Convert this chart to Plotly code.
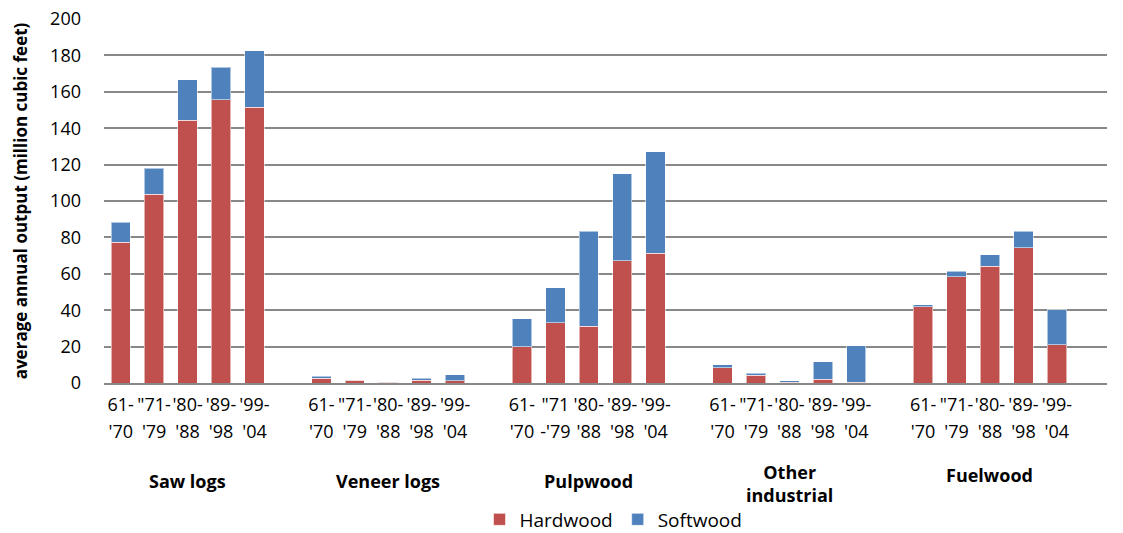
import plotly.graph_objects as go

# Product groups and the survey periods within each group
groups = ["Saw logs", "Veneer logs", "Pulpwood", "Other<br>industrial", "Fuelwood"]
group_label_y = [-0.27, -0.27, -0.27, -0.275, -0.253]
period_line1 = ["61-", "\"71-", "'80-", "'89-", "'99-"]
period_line2 = ["'70", "'79", "'88", "'98", "'04"]

# Average annual output, million cubic feet (5 periods per group, groups in order)
hardwood = [77.3, 103.6, 144.4, 155.5, 151.5,
            2.6, 1.6, 0.5, 1.5, 1.3,
            20.0, 33.1, 31.1, 67.3, 71.3,
            8.4, 4.2, 0.3, 2.1, 0.3,
            42.0, 58.4, 64.2, 74.3, 21.1]
softwood = [11.1, 14.4, 22.1, 18.0, 31.0,
            1.2, 0.2, 0.1, 1.2, 3.3,
            15.3, 19.3, 52.4, 47.6, 55.9,
            1.5, 1.1, 1.0, 9.7, 20.1,
            1.1, 2.9, 6.4, 9.2, 19.1]

n_per = len(period_line1)
slot = n_per + 1  # one empty slot between groups

xpos = [g * slot + p for g in range(len(groups)) for p in range(n_per)]
lab1 = []
lab2 = []
for g in range(len(groups)):
    for p in range(n_per):
        if groups[g] == "Pulpwood" and p == 1:
            lab1.append("\"71")
            lab2.append("-'79")
        else:
            lab1.append(period_line1[p])
            lab2.append(period_line2[p])

RED = "#C0504D"
BLUE = "#4F81BD"
GRID = "#888888"
FONT = "Open Sans"

fig = go.Figure()
fig.add_trace(go.Bar(x=xpos, y=hardwood, name="Hardwood", width=0.58,
                     marker=dict(color=RED, line=dict(color="rgba(255,255,255,0.55)", width=1))))
fig.add_trace(go.Bar(x=xpos, y=softwood, name="Softwood", width=0.58,
                     marker=dict(color=BLUE, line=dict(color="rgba(255,255,255,0.55)", width=1))))
# carrier for the second row of period labels
fig.add_trace(go.Scatter(x=xpos, y=[None] * len(xpos), xaxis="x2", mode="markers",
                         showlegend=False, hoverinfo="skip"))

xmax = len(groups) * slot - 1
for g, name in enumerate(groups):
    fig.add_annotation(x=g * slot + (n_per - 1) / 2, xref="x",
                       y=group_label_y[g], yref="paper",
                       text="<b>%s</b>" % name, showarrow=False,
                       font=dict(family=FONT, size=18, color="black"),
                       yanchor="middle")

fig.update_layout(
    barmode="stack",
    width=1123, height=533,
    margin=dict(l=104, r=16, t=19, b=150, autoexpand=False),
    paper_bgcolor="white", plot_bgcolor="white",
    font=dict(family=FONT, size=18, color="black"),
    showlegend=True,
    legend=dict(orientation="h", x=0.508, xanchor="center", y=-0.375, yanchor="middle",
                font=dict(family=FONT, size=19), traceorder="normal",
                itemwidth=30, tracegroupgap=0),
    xaxis=dict(range=[-0.5, xmax + 0.5], tickvals=xpos, ticktext=lab1, tickangle=0,
               automargin=False,
               showgrid=False, zeroline=False, showline=True, linecolor=GRID, linewidth=2,
               ticks="", tickfont=dict(family=FONT, size=18), ticklabelstandoff=4),
    xaxis2=dict(overlaying="x", matches="x", anchor="y", side="bottom", tickangle=0,
                automargin=False,
                tickvals=xpos, ticktext=lab2, showgrid=False, zeroline=False,
                showline=False, ticks="", tickfont=dict(family=FONT, size=18),
                ticklabelstandoff=36),
    yaxis=dict(range=[0, 200], dtick=20, showgrid=True, gridcolor=GRID, gridwidth=1.5,
               automargin=False,
               zeroline=False, showline=False, ticks="",
               tickfont=dict(family=FONT, size=18), ticklabelstandoff=22,
               title=dict(text="<b>average annual output (million cubic feet)</b>",
                          font=dict(family=FONT, size=17), standoff=18)),
)

fig.write_html("out.html")
